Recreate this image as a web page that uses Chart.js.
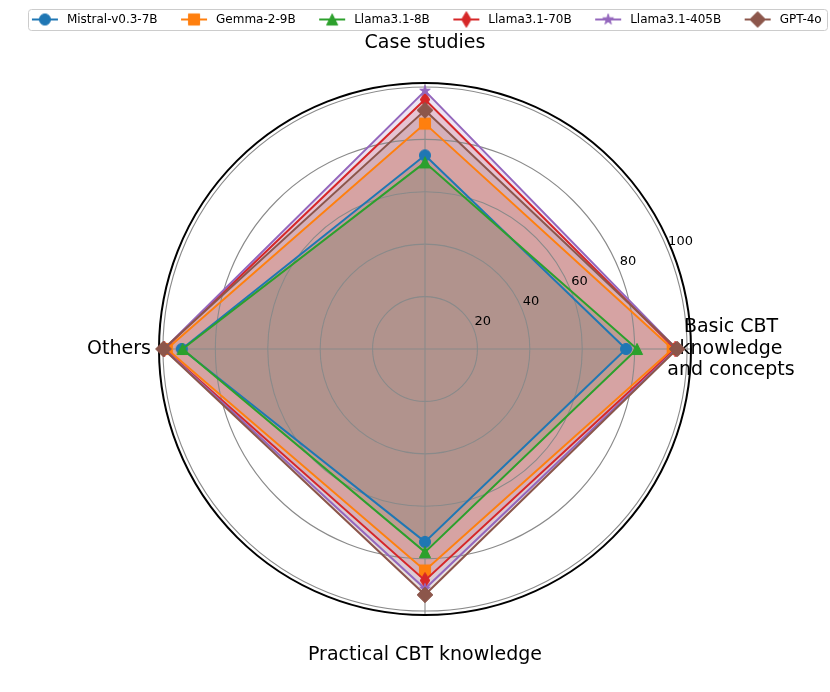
<!DOCTYPE html>
<html lang="en">
<head>
  <meta charset="UTF-8" />
  <title>CBT knowledge radar</title>
  <script src="https://cdn.jsdelivr.net/npm/chart.js"></script>
  <style>
    body {
      margin: 0;
      background: #ffffff;
    }
    #wrap {
      width: 830px;
      height: 692px;
    }
  </style>
</head>
<body>
  <div id="wrap"><canvas id="radar" width="830" height="692"></canvas></div>

  <script>
    // categories go clockwise from the top
    const categories = ['Case studies', ['Basic CBT', 'knowledge', 'and concepts'], 'Practical CBT knowledge', 'Others'];
    const modelNames = ['Mistral-v0.3-7B', 'Gemma-2-9B', 'Llama3.1-8B', 'Llama3.1-70B', 'Llama3.1-405B', 'GPT-4o'];

    const mistral   = [73.9, 76.7, 73.6, 92.8];
    const gemma     = [86.0, 94.5, 84.5, 98.5];
    const llama8b   = [71.2, 80.9, 77.5, 92.5];
    const llama70b  = [95.2, 95.5, 88.3, 99.5];
    const llama405b = [98.5, 96.0, 91.5, 99.6];
    const gpt4o     = [91.1, 96.2, 93.8, 99.8];
    const seriesValues = [mistral, gemma, llama8b, llama70b, llama405b, gpt4o];

    const rTicks = [20, 40, 60, 80, 100];
    const rMax = 101.5;

    const seriesColors = ['#1f77b4', '#ff7f0e', '#2ca02c', '#d62728', '#9467bd', '#8c564b'];
    const markerKinds = ['circle', 'square', 'triangle', 'thinDiamond', 'star', 'diamond'];

    const FONT = '"DejaVu Sans", "Liberation Sans", sans-serif';

    function hexToRgba(hex, a) {
      const n = parseInt(hex.slice(1), 16);
      return `rgba(${(n >> 16) & 255}, ${(n >> 8) & 255}, ${n & 255}, ${a})`;
    }

    function markerPath(ctx, kind, cx, cy) {
      const m = 5.55;
      ctx.beginPath();
      if (kind === 'circle') {
        ctx.arc(cx, cy, m, 0, Math.PI * 2);
      } else if (kind === 'square') {
        ctx.rect(cx - m, cy - m, 2 * m, 2 * m);
      } else if (kind === 'triangle') {
        ctx.moveTo(cx, cy - m);
        ctx.lineTo(cx + m, cy + m);
        ctx.lineTo(cx - m, cy + m);
        ctx.closePath();
      } else if (kind === 'diamond' || kind === 'thinDiamond') {
        const h = m * Math.SQRT2;
        const w = kind === 'diamond' ? h : h * 0.6;
        ctx.moveTo(cx, cy - h);
        ctx.lineTo(cx + w, cy);
        ctx.lineTo(cx, cy + h);
        ctx.lineTo(cx - w, cy);
        ctx.closePath();
      } else if (kind === 'star') {
        for (let k = 0; k < 10; k++) {
          const r = k % 2 ? m * 0.382 : m;
          const a = -Math.PI / 2 + k * Math.PI / 5;
          const px = cx + Math.cos(a) * r, py = cy + Math.sin(a) * r;
          k === 0 ? ctx.moveTo(px, py) : ctx.lineTo(px, py);
        }
        ctx.closePath();
      }
    }

    // marker image, optionally with the short line used in the legend
    function makeMarker(kind, color, withLine) {
      const c = document.createElement('canvas');
      c.width = withLine ? 39 : 20;
      c.height = 20;
      const ctx = c.getContext('2d');
      const cx = withLine ? 23 : 10, cy = 10;
      if (withLine) {
        ctx.strokeStyle = color;
        ctx.lineWidth = 2;
        ctx.beginPath();
        ctx.moveTo(10, cy);
        ctx.lineTo(36, cy);
        ctx.stroke();
      }
      markerPath(ctx, kind, cx, cy);
      ctx.fillStyle = color;
      ctx.fill();
      ctx.lineWidth = 1;
      ctx.strokeStyle = color;
      ctx.stroke();
      return c;
    }

    const legendIcons = markerKinds.map((k, i) => makeMarker(k, seriesColors[i], true));

    // taller legend box so the plot sits lower; empty box on the left nudges the plot right
    const layoutTweaks = {
      id: 'layoutTweaks',
      beforeInit(chart) {
        const fit = chart.legend.fit;
        chart.legend.fit = function () {
          fit.call(this);
          this.height = 83;
        };
        Chart.layouts.addBox(chart, {
          position: 'left',
          weight: 0,
          fullSize: false,
          options: {},
          width: 0, height: 0, left: 0, top: 0, right: 0, bottom: 0,
          isHorizontal() { return false; },
          update(maxWidth, maxHeight) {
            this.width = 11.6;
            this.height = maxHeight;
          },
          draw() {}
        });
      }
    };

    // spine, radial tick labels at 22.5 deg and the category labels
    const polarDecor = {
      id: 'polarDecor',
      beforeDatasetsDraw(chart) {
        const s = chart.scales.r;
        const ctx = chart.ctx;
        ctx.save();
        ctx.beginPath();
        ctx.arc(s.xCenter, s.yCenter, s.getDistanceFromCenterForValue(rMax), 0, Math.PI * 2);
        ctx.strokeStyle = '#000';
        ctx.lineWidth = 2;
        ctx.stroke();

        const ang = 22.5 * Math.PI / 180;
        ctx.fillStyle = '#000';
        ctx.font = '13px ' + FONT;
        ctx.textAlign = 'left';
        ctx.textBaseline = 'middle';
        rTicks.forEach(v => {
          const d = s.getDistanceFromCenterForValue(v);
          ctx.fillText(String(v), s.xCenter + Math.cos(ang) * d + 1, s.yCenter - Math.sin(ang) * d - 7);
        });

        ctx.font = '19px ' + FONT;
        ctx.textAlign = 'center';
        categories.forEach((lab, i) => {
          const p = s.getPointPosition(i, s.drawingArea + 40);
          const lines = Array.isArray(lab) ? lab : [lab];
          lines.forEach((t, k) => {
            ctx.fillText(t, p.x, p.y + (k - (lines.length - 1) / 2) * 21.5);
          });
        });
        ctx.restore();
      },
      afterDraw(chart) {
        const lg = chart.legend;
        const hb = lg.legendHitBoxes;
        if (!hb || !hb.length) return;
        const cy = lg.top + lg.options.labels.padding + 6;
        const x0 = hb[0].left + 6.5;
        const last = hb[hb.length - 1];
        const x1 = last.left + last.width + 6;
        const ctx = chart.ctx;
        ctx.save();
        ctx.beginPath();
        ctx.roundRect(Math.round(x0) + 0.5, Math.round(cy - 10.5) + 0.5, Math.round(x1 - x0), 21, 3);
        ctx.strokeStyle = '#cccccc';
        ctx.lineWidth = 1;
        ctx.stroke();
        ctx.restore();
      }
    };

    const datasets = modelNames.map((name, i) => ({
      label: name,
      data: seriesValues[i],
      borderColor: seriesColors[i],
      backgroundColor: hexToRgba(seriesColors[i], 0.18),
      borderWidth: 2,
      fill: true,
      pointStyle: makeMarker(markerKinds[i], seriesColors[i], false),
      pointRadius: 5,
      order: modelNames.length - i
    }));

    new Chart(document.getElementById('radar'), {
      type: 'radar',
      data: { labels: categories, datasets },
      options: {
        responsive: false,
        devicePixelRatio: 1,
        animation: false,
        events: [],
        layout: { padding: { left: 8.4, right: -11.6, top: 0, bottom: 76 } },
        scales: {
          r: {
            min: 0,
            max: rMax,
            ticks: { display: false, stepSize: 20, includeBounds: false },
            grid: { circular: true, color: '#8a8a8a', lineWidth: 1.1 },
            angleLines: { color: '#8a8a8a', lineWidth: 1.1 },
            pointLabels: { display: false }
          }
        },
        plugins: {
          filler: { drawTime: 'beforeDraw' },
          tooltip: { enabled: false },
          legend: {
            position: 'top',
            align: 'start',
            labels: {
              usePointStyle: true,
              pointStyleWidth: 39,
              padding: 13.5,
              color: '#000',
              font: { family: FONT, size: 12 },
              generateLabels(chart) {
                return chart.data.datasets.map((ds, i) => ({
                  text: ds.label,
                  pointStyle: legendIcons[i],
                  fillStyle: ds.borderColor,
                  strokeStyle: ds.borderColor,
                  lineWidth: 0,
                  hidden: false,
                  fontColor: '#000',
                  datasetIndex: i
                }));
              }
            }
          }
        }
      },
      plugins: [layoutTweaks, polarDecor]
    });
  </script>
</body>
</html>
